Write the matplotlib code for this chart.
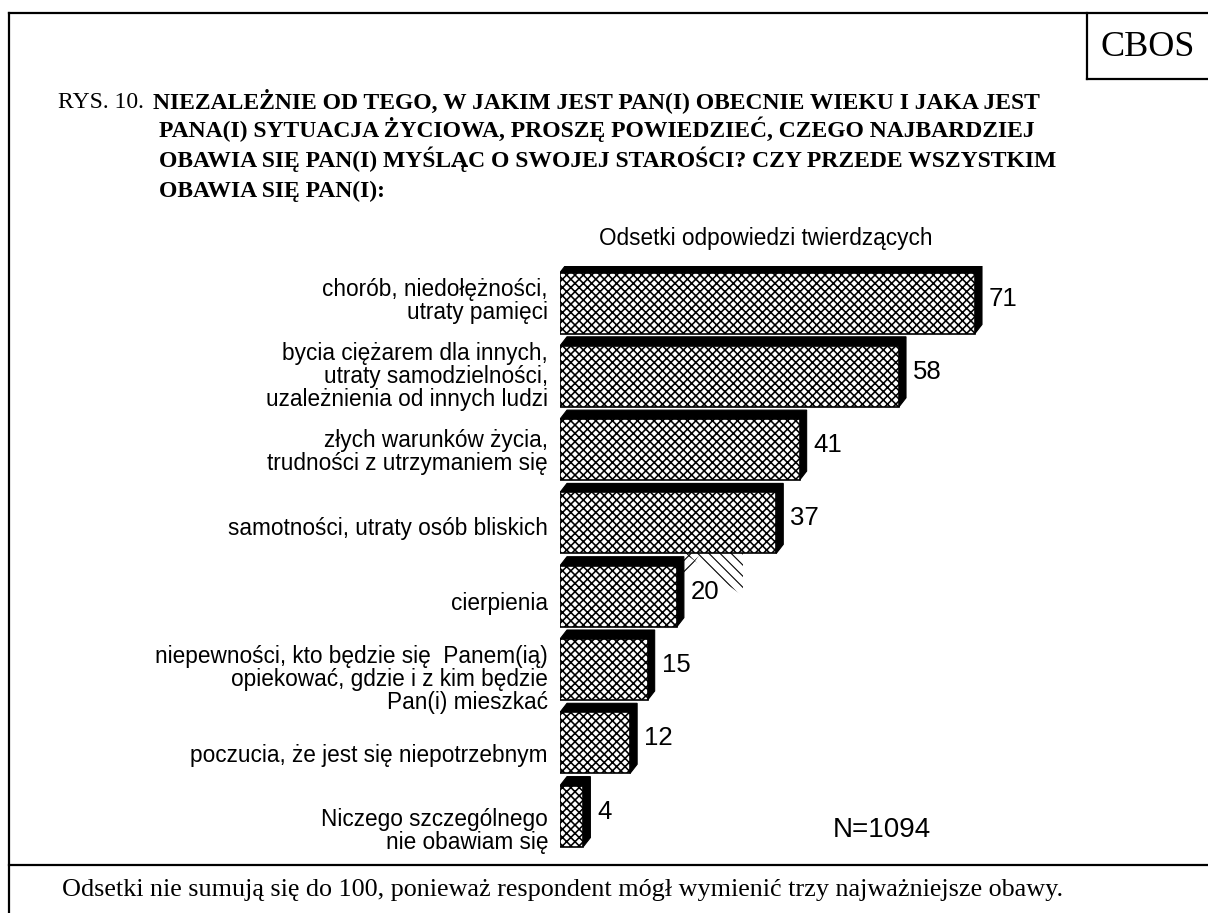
import matplotlib
matplotlib.use("Agg")
import matplotlib.pyplot as plt
from matplotlib.patches import Polygon

plt.rcParams['hatch.linewidth'] = 1.15

# data
categories = [
    "chorób, niedołężności,\nutraty pamięci",
    "bycia ciężarem dla innych,\nutraty samodzielności,\nuzależnienia od innych ludzi",
    "złych warunków życia,\ntrudności z utrzymaniem się",
    "samotności, utraty osób bliskich",
    "cierpienia",
    "niepewności, kto będzie się  Panem(ią)\nopiekować, gdzie i z kim będzie\nPan(i) mieszkać",
    "poczucia, że jest się niepotrzebnym",
    "Niczego szczególnego\nnie obawiam się",
]
values = [71, 58, 41, 37, 20, 15, 12, 4]

title_lines = [
    "NIEZALEŻNIE OD TEGO, W JAKIM JEST PAN(I) OBECNIE WIEKU I JAKA JEST",
    "PANA(I) SYTUACJA ŻYCIOWA, PROSZĘ POWIEDZIEĆ, CZEGO NAJBARDZIEJ",
    "OBAWIA SIĘ PAN(I) MYŚLĄC O SWOJEJ STAROŚCI? CZY PRZEDE WSZYSTKIM",
    "OBAWIA SIĘ PAN(I):",
]
subtitle = "Odsetki odpowiedzi twierdzących"
note_n = "N=1094"
footer = "Odsetki nie sumują się do 100, ponieważ respondent mógł wymienić trzy najważniejsze obawy."

W, H = 1208, 913
fig = plt.figure(figsize=(W / 100, H / 100), dpi=100)

# background layer in pixel coordinates
bg = fig.add_axes([0, 0, 1, 1])
bg.set_xlim(0, W)
bg.set_ylim(H, 0)
bg.axis('off')

lw = 1.6
bg.plot([9, 9], [13, H], color='black', lw=lw)
bg.plot([9, W], [13, 13], color='black', lw=lw)
bg.plot([9, W], [865, 865], color='black', lw=lw)
bg.plot([1087, 1087], [13, 79], color='black', lw=lw)
bg.plot([1087, W], [79, 79], color='black', lw=lw)
bg.text(1148, 47, "CBOS", family='Liberation Serif', fontsize=26,
        ha='center', va='center')

serif = 'Liberation Serif'
tsize = 17
bg.text(58, 108, "RYS. 10.", family=serif, fontsize=tsize, va='baseline')
bg.text(153, 108, title_lines[0], family=serif, fontsize=tsize,
        weight='bold', va='baseline')
for k, line in enumerate(title_lines[1:]):
    bg.text(159, 137.5 + 29.5 * k, line, family=serif, fontsize=tsize,
            weight='bold', va='baseline')

bg.text(766, 238, subtitle, family='Liberation Sans', fontsize=16.3,
        ha='center', va='center')
bg.text(882, 830, note_n, family='Liberation Sans', fontsize=20,
        ha='center', va='center')
bg.text(62, 896, footer, family=serif, fontsize=18.8, va='baseline')

# chart axes: x 0..100 -> px 560..1144.5, rows pitch 73.3 px
px_per_unit = 5.845
pitch = 73.3
top_px = 303 - pitch / 2
bot_px = 303 + pitch * 7.5
ax = fig.add_axes([560 / W, 1 - bot_px / H, 100 * px_per_unit / W,
                   (bot_px - top_px) / H])
ax.set_xlim(0, 100)
ax.set_ylim(7.5, -0.5)
ax.axis('off')
ax.patch.set_alpha(0)

bh = 61 / pitch
dx = 7 / px_per_unit
dy = 9 / pitch

for i, v in enumerate(values):
    yt = i - bh / 2
    yb = i + bh / 2
    shadow = Polygon([(0, yt), (dx, yt - dy), (v + dx, yt - dy),
                      (v + dx, yb - dy), (v, yb), (v, yt)],
                     closed=True, facecolor='black', edgecolor='black',
                     lw=0.8, zorder=2)
    ax.add_patch(shadow)

ax.barh(range(len(values)), values, height=bh, color='white',
        edgecolor='black', hatch='xxxx', lw=1.2, zorder=3)

# stray hatched fragment next to the "cierpienia" bar
v5 = values[4]
y_top = 3 + bh / 2
with plt.rc_context({'hatch.linewidth': 0.8}):
    frag = Polygon([(v5 + dx, y_top), (v5 + 11.3, y_top), (v5 + 11.3, 4.0)],
                   closed=True, facecolor='none', edgecolor='black', lw=0,
                   hatch='\\\\\\', zorder=1)
    frag2 = Polygon([(v5 + dx, y_top), (v5 + 4.0, y_top), (v5 + dx, 3.75)],
                    closed=True, facecolor='none', edgecolor='black', lw=0,
                    hatch='///', zorder=1)
ax.add_patch(frag)
ax.add_patch(frag2)

for i, v in enumerate(values):
    ax.text(v + 2.4, i - dy / 2, str(v), family='Liberation Sans',
            fontsize=18.5, ha='left', va='center', zorder=4)

for i, c in enumerate(categories):
    bg.text(548, 301 + i * 75.7, c, family='Liberation Sans', fontsize=16.3,
            ha='right', va='center', multialignment='right', linespacing=1.0)

plt.savefig('out.png', dpi=100)
